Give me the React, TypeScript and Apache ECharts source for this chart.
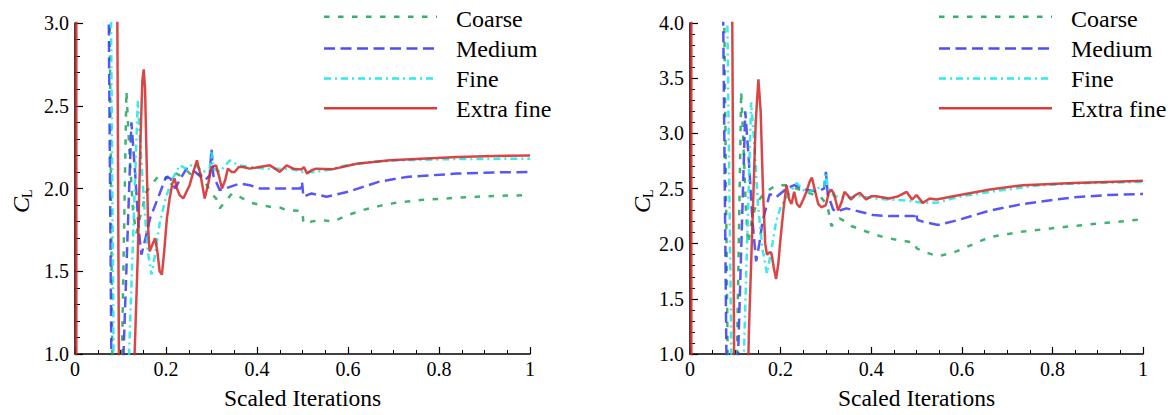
import React, { useEffect, useRef } from "react";
import * as echarts from "echarts";

// Lift coefficient convergence histories for four grid resolutions (two cases).
const seriesNames = ["Coarse", "Medium", "Fine", "Extra fine"];
const xTicks = { min: 0, max: 1, interval: 0.2 };
const leftYRange = { min: 1, max: 3, interval: 0.5 };
const rightYRange = { min: 1, max: 4, interval: 0.5 };

// Case 1 (left panel)
const leftCoarse = [
  [0, 6], [0.068, 6], [0.086, -0.5], [0.094, -0.5], [0.113, 2.59], [0.12, 2.2], [0.128, 1.85],
  [0.135, 1.73], [0.145, 1.85], [0.157, 1.98], [0.17, 2.03], [0.185, 2.08], [0.2, 2.06],
  [0.215, 2.1], [0.23, 2.08], [0.245, 2.11], [0.26, 2.07], [0.275, 2.09], [0.29, 2.02],
  [0.3, 1.97], [0.31, 1.94], [0.318, 1.88], [0.33, 1.92], [0.345, 1.97], [0.362, 1.95],
  [0.384, 1.915], [0.41, 1.9], [0.428, 1.89], [0.45, 1.885], [0.465, 1.87], [0.49, 1.865],
  [0.5, 1.86], [0.502, 1.79], [0.52, 1.8], [0.54, 1.81], [0.567, 1.8], [0.6, 1.84],
  [0.633, 1.87], [0.67, 1.895], [0.707, 1.915], [0.76, 1.93], [0.839, 1.944], [0.92, 1.955],
  [1, 1.96],
];
const leftMedium = [
  [0, 6], [0.066, 6], [0.084, -0.5], [0.088, -0.5], [0.124, 2.4], [0.132, 2.1], [0.14, 1.75],
  [0.146, 1.6], [0.155, 1.7], [0.165, 1.82], [0.182, 1.94], [0.2, 2.07], [0.21, 2.06],
  [0.22, 2.0], [0.232, 2.06], [0.245, 2.12], [0.264, 2.1], [0.286, 2.05], [0.296, 2.08],
  [0.3, 2.24], [0.304, 2.08], [0.318, 1.99], [0.33, 2.0], [0.362, 2.03], [0.384, 2.02],
  [0.406, 2.0], [0.44, 2.0], [0.472, 2.0], [0.496, 2.0], [0.499, 2.04], [0.502, 1.95],
  [0.52, 1.97], [0.553, 1.95], [0.6, 1.98], [0.667, 2.04], [0.729, 2.07], [0.84, 2.09],
  [0.92, 2.097], [1, 2.1],
];
const leftFine = [
  [0, 6], [0.071, 6], [0.089, -0.5], [0.1, -0.5], [0.138, 2.53], [0.145, 2.2], [0.152, 1.9],
  [0.16, 1.62], [0.168, 1.48], [0.176, 1.6], [0.186, 1.79], [0.2, 1.95], [0.215, 2.06],
  [0.23, 2.14], [0.245, 2.12], [0.26, 2.15], [0.282, 2.1], [0.296, 2.12], [0.3, 2.22],
  [0.305, 2.12], [0.318, 2.1], [0.34, 2.17], [0.36, 2.14], [0.384, 2.13], [0.42, 2.12],
  [0.472, 2.12], [0.5, 2.1], [0.53, 2.1], [0.56, 2.115], [0.597, 2.14], [0.65, 2.16],
  [0.707, 2.17], [0.84, 2.178], [1, 2.18],
];
const leftExtraFine = [
  [0.003, -0.5], [0.003, 6], [0.088, 6], [0.099, -0.5], [0.122, -0.5], [0.131, 1.0], [0.138, 1.6],
  [0.144, 2.3], [0.148, 2.65], [0.151, 2.72], [0.154, 2.6], [0.158, 2.1], [0.161, 1.75],
  [0.164, 1.62], [0.17, 1.66], [0.176, 1.7], [0.181, 1.62], [0.186, 1.5], [0.191, 1.48],
  [0.196, 1.62], [0.202, 1.82], [0.208, 1.94], [0.214, 2.03], [0.219, 2.06], [0.224, 2.0],
  [0.23, 1.96], [0.238, 1.94], [0.245, 1.98], [0.252, 2.02], [0.26, 2.1], [0.268, 2.17],
  [0.276, 2.08], [0.285, 1.94], [0.293, 2.03], [0.3, 2.13], [0.31, 2.14], [0.317, 2.07],
  [0.323, 2.0], [0.33, 2.05], [0.336, 2.12], [0.344, 2.1], [0.351, 2.1], [0.36, 2.13],
  [0.369, 2.13], [0.384, 2.12], [0.405, 2.13], [0.428, 2.14], [0.44, 2.12], [0.45, 2.1],
  [0.465, 2.14], [0.48, 2.12], [0.498, 2.115], [0.503, 2.13], [0.51, 2.09], [0.52, 2.11],
  [0.53, 2.12], [0.567, 2.117], [0.619, 2.15], [0.692, 2.17], [0.76, 2.18], [0.84, 2.19],
  [0.92, 2.197], [1, 2.2],
];

// Case 2 (right panel)
const rightCoarse = [
  [0, 8], [0.066, 8], [0.088, -1], [0.096, -1], [0.113, 3.38], [0.118, 2.9], [0.123, 2.35],
  [0.128, 2.0], [0.136, 2.2], [0.146, 2.36], [0.164, 2.46], [0.19, 2.53], [0.213, 2.53],
  [0.235, 2.5], [0.257, 2.47], [0.275, 2.44], [0.287, 2.43], [0.297, 2.38], [0.305, 2.31],
  [0.312, 2.16], [0.322, 2.2], [0.33, 2.23], [0.343, 2.2], [0.356, 2.16], [0.37, 2.14],
  [0.389, 2.11], [0.426, 2.06], [0.463, 2.03], [0.496, 2.01], [0.5, 1.96], [0.514, 1.93],
  [0.548, 1.885], [0.588, 1.93], [0.662, 2.06], [0.735, 2.11], [0.846, 2.16], [0.92, 2.19],
  [1, 2.22],
];
const rightMedium = [
  [0, 8], [0.064, 8], [0.085, -1], [0.092, -1], [0.122, 3.2], [0.13, 2.75], [0.138, 2.2],
  [0.146, 1.84], [0.153, 2.0], [0.16, 2.2], [0.176, 2.45], [0.19, 2.42], [0.213, 2.5],
  [0.23, 2.53], [0.257, 2.49], [0.28, 2.47], [0.296, 2.5], [0.3, 2.65], [0.304, 2.45],
  [0.316, 2.31], [0.323, 2.29], [0.345, 2.32], [0.375, 2.29], [0.404, 2.26], [0.44, 2.25],
  [0.496, 2.25], [0.499, 2.28], [0.502, 2.215], [0.514, 2.2], [0.548, 2.17], [0.588, 2.21],
  [0.662, 2.3], [0.735, 2.36], [0.846, 2.42], [0.92, 2.44], [1, 2.45],
];
const rightFine = [
  [0, 8], [0.071, 8], [0.097, -1], [0.105, -1], [0.135, 3.28], [0.142, 2.9], [0.15, 2.35],
  [0.16, 1.95], [0.17, 1.73], [0.18, 1.95], [0.19, 2.2], [0.2, 2.33], [0.213, 2.42],
  [0.235, 2.55], [0.257, 2.46], [0.28, 2.5], [0.296, 2.52], [0.3, 2.63], [0.305, 2.5],
  [0.318, 2.43], [0.345, 2.42], [0.375, 2.43], [0.41, 2.41], [0.44, 2.4], [0.48, 2.39],
  [0.514, 2.37], [0.544, 2.37], [0.588, 2.42], [0.662, 2.47], [0.772, 2.53], [0.88, 2.55],
  [1, 2.56],
];
const rightExtraFine = [
  [0.003, -1], [0.003, 8], [0.088, 8], [0.1, -1], [0.12, -1], [0.13, 1.2], [0.138, 2.2],
  [0.145, 3.1], [0.151, 3.49], [0.156, 3.2], [0.161, 2.5], [0.166, 2.0], [0.17, 1.9],
  [0.175, 1.92], [0.18, 1.91], [0.185, 1.78], [0.19, 1.68], [0.195, 1.82], [0.199, 2.01],
  [0.206, 2.3], [0.213, 2.53], [0.219, 2.4], [0.224, 2.36], [0.23, 2.47], [0.236, 2.36],
  [0.242, 2.33], [0.25, 2.4], [0.257, 2.47], [0.264, 2.56], [0.269, 2.6], [0.276, 2.48],
  [0.283, 2.36], [0.29, 2.33], [0.3, 2.35], [0.306, 2.46], [0.312, 2.49], [0.318, 2.45],
  [0.327, 2.3], [0.335, 2.38], [0.341, 2.47], [0.348, 2.44], [0.355, 2.4], [0.365, 2.44],
  [0.375, 2.46], [0.389, 2.4], [0.4, 2.43], [0.411, 2.43], [0.44, 2.41], [0.46, 2.43],
  [0.478, 2.47], [0.49, 2.4], [0.5, 2.44], [0.514, 2.37], [0.529, 2.41], [0.544, 2.4],
  [0.581, 2.43], [0.662, 2.49], [0.735, 2.53], [0.846, 2.55], [0.92, 2.56], [1, 2.57],
];

const FONT = "Liberation Serif";
const colors = ["#1fa65c", "#3a3af2", "#19e6e6", "#d32626"];
const dashes: (number[] | null)[] = [[5.5, 8.5], [11, 5.5], [7, 4, 2, 4], null];
const LINE_W = 2.5;

const panels = [
  { grid: { left: 75, top: 23, width: 455, height: 348 }, y: leftYRange,
    data: [leftCoarse, leftMedium, leftFine, leftExtraFine],
    legend: { x0: 324, x1: 437, tx: 456 }, yName: { x: 21, y: 213 } },
  { grid: { left: 690, top: 23, width: 453, height: 348 }, y: rightYRange,
    data: [rightCoarse, rightMedium, rightFine, rightExtraFine],
    legend: { x0: 939, x1: 1052, tx: 1071 }, yName: { x: 642, y: 213 } },
];
const legendLineY = [16.7, 48.5, 78.6, 108.3];
const legendTextY = [19.2, 49.2, 79.2, 109.2];

export default function App() {
  const ref = useRef<HTMLDivElement>(null);
  useEffect(() => {
    if (!ref.current) return;
    const chart = echarts.init(ref.current, undefined, { renderer: "svg" });

    const axisCommon = {
      axisLine: { show: true, onZero: false, lineStyle: { color: "#000", width: 1.5 } },
      splitLine: { show: false },
      minorSplitLine: { show: false },
    };

    const xAxis = panels.map((_, i) => ({
      ...axisCommon,
      gridIndex: i,
      type: "value",
      min: xTicks.min,
      max: xTicks.max,
      interval: xTicks.interval,
      name: "Scaled Iterations",
      nameLocation: "middle",
      nameGap: 32,
      nameTextStyle: { fontFamily: FONT, fontSize: 23.5, color: "#000" },
      axisTick: { show: true, inside: true, length: 7, lineStyle: { color: "#000", width: 1.2 } },
      minorTick: { show: true, splitNumber: 4, length: 4, lineStyle: { color: "#000", width: 1 } },
      axisLabel: {
        fontFamily: FONT, fontSize: 20, color: "#000", margin: 5,
        formatter: (v: number) => String(Math.round(v * 10) / 10),
      },
    }));

    const yAxis = panels.map((p, i) => ({
      ...axisCommon,
      gridIndex: i,
      type: "value",
      min: p.y.min,
      max: p.y.max,
      interval: p.y.interval,
      axisTick: { show: true, inside: true, length: 8, lineStyle: { color: "#000", width: 1.2 } },
      minorTick: { show: true, splitNumber: 5, length: 5, lineStyle: { color: "#000", width: 1 } },
      axisLabel: {
        fontFamily: FONT, fontSize: 20, color: "#000", margin: 6,
        formatter: (v: number) => v.toFixed(1),
      },
    }));

    const series: any[] = [];
    panels.forEach((p, pi) => {
      p.data.forEach((d, si) => {
        series.push({
          name: seriesNames[si],
          type: "line",
          xAxisIndex: pi,
          yAxisIndex: pi,
          data: d,
          showSymbol: false,
          symbol: "none",
          clip: true,
          z: 2 + si,
          lineStyle: {
            color: colors[si],
            width: LINE_W,
            type: dashes[si] ?? "solid",
            opacity: 0.85,
          },
        });
      });
    });

    const graphic: any[] = [];
    panels.forEach((p) => {
      seriesNames.forEach((name, si) => {
        graphic.push({
          type: "line",
          shape: { x1: p.legend.x0, y1: legendLineY[si], x2: p.legend.x1, y2: legendLineY[si] },
          style: { stroke: colors[si], lineWidth: LINE_W, lineDash: dashes[si] ?? null, opacity: 0.9 },
        });
        graphic.push({
          type: "text",
          x: p.legend.tx,
          y: legendTextY[si],
          style: {
            text: name, fontFamily: FONT, fontSize: 24, fill: "#000",
            align: "left", textAlign: "left", verticalAlign: "middle", textVerticalAlign: "middle",
          },
        });
      });
      // rotated C_L axis title
      graphic.push({
        type: "group",
        x: p.yName.x,
        y: p.yName.y,
        rotation: Math.PI / 2,
        children: [
          {
            type: "text", x: 0, y: 0,
            style: {
              text: "C", fontFamily: FONT, fontSize: 24, fontStyle: "italic", fill: "#000",
              align: "left", textAlign: "left", verticalAlign: "middle", textVerticalAlign: "middle",
            },
          },
          {
            type: "text", x: 15, y: 6,
            style: {
              text: "L", fontFamily: FONT, fontSize: 14, fill: "#000",
              align: "left", textAlign: "left", verticalAlign: "middle", textVerticalAlign: "middle",
            },
          },
        ],
      });
    });

    chart.setOption({
      animation: false,
      backgroundColor: "#fff",
      grid: panels.map((p) => ({ ...p.grid, containLabel: false })),
      xAxis,
      yAxis,
      series,
      graphic,
    });
    return () => chart.dispose();
  }, []);

  return (
    <div
      ref={ref}
      style={{ position: "absolute", left: 0, top: 0, width: 1176, height: 415 }}
    />
  );
}
